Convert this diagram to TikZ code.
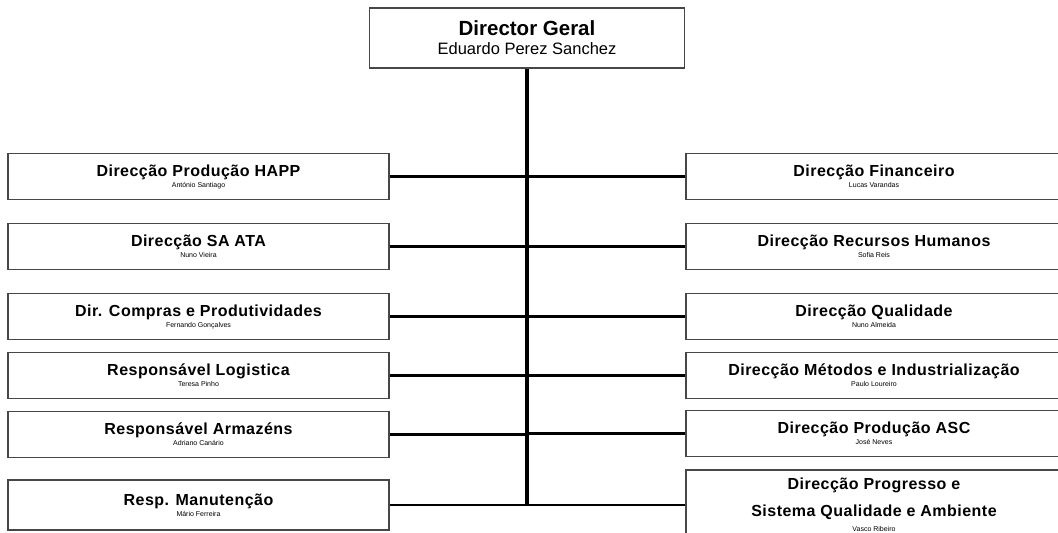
\documentclass[tikz,border=0pt]{standalone}
\usepackage{fontspec}
\setmainfont{Liberation Sans}
\usepackage{tikz}
\newcommand\leftX{198.5}
\newcommand\rightX{874}
\newcommand\trunkX{527}
\newcommand\boxColor{black!72}
\newcommand\titleFont{\bfseries\fontsize{16}{17}\selectfont\addfontfeature{LetterSpace=3}}
\newcommand\nameFont{\mdseries\fontsize{7}{8}\selectfont}
\newcommand{\unitText}[2]{\titleFont #1\\[-1pt]\nameFont #2}
\tikzset{
    unitBox/.style={draw=\boxColor, line width=1.6pt, fill=white, inner sep=0pt, align=center, minimum height=46pt},
    leftBox/.style={unitBox, minimum width=381pt},
    rightBox/.style={unitBox, minimum width=376pt},
    linkLine/.style={black, line width=2.8pt},
    trunkLine/.style={black, line width=3.8pt}
}

\begin{document}
\begin{tikzpicture}[x=1pt, y=-1pt]
        \useasboundingbox (0,0) rectangle (1058,533);

        % top of the chart
        \node[unitBox, minimum width=315pt, minimum height=60pt] (dirGeral) at (\trunkX, 38)
            {\bfseries\fontsize{20.5}{22}\selectfont Director Geral\\[6pt]\mdseries\fontsize{16.5}{17}\selectfont Eduardo Perez Sanchez};
        \coordinate (trunkEnd) at (\trunkX, 505);

        % left column
        \node[leftBox] (dirHapp) at (\leftX, 176.5) {\unitText{Direcção Produção HAPP}{António Santiago}};
        \node[leftBox] (dirSaAta) at (\leftX, 246.5) {\unitText{Direcção SA ATA}{Nuno Vieira}};
        \node[leftBox] (dirCompras) at (\leftX, 316.5) {\unitText{Dir. Compras e Produtividades}{Fernando Gonçalves}};
        \node[leftBox] (respLogistica) at (\leftX, 375.5) {\unitText{Responsável Logistica}{Teresa Pinho}};
        \node[leftBox] (respArmazens) at (\leftX, 434.5) {\unitText{Responsável Armazéns}{Adriano Canário}};
        \node[leftBox, minimum height=50pt] (respManutencao) at (\leftX, 505) {\unitText{Resp. Manutenção}{Mário Ferreira}};

        % right column
        \node[rightBox] (dirFinanceiro) at (\rightX, 176.5) {\unitText{Direcção Financeiro}{Lucas Varandas}};
        \node[rightBox] (dirRh) at (\rightX, 246.5) {\unitText{Direcção Recursos Humanos}{Sofia Reis}};
        \node[rightBox] (dirQualidade) at (\rightX, 316.5) {\unitText{Direcção Qualidade}{Nuno Almeida}};
        \node[rightBox] (dirMetodos) at (\rightX, 375.5) {\unitText{Direcção Métodos e Industrialização}{Paulo Loureiro}};
        \node[rightBox] (dirAsc) at (\rightX, 433.5) {\unitText{Direcção Produção ASC}{José Neves}};
        \node[rightBox, minimum height=70pt] (dirProgresso) at (\rightX, 505)
            {\titleFont Direcção Progresso e\\[11pt]\titleFont Sistema Qualidade e Ambiente\\[3pt]\nameFont Vasco Ribeiro};

        % connectors
        \draw[trunkLine] (dirGeral.south) -- ([yshift=1.4pt]trunkEnd);
        \foreach \unit in {dirHapp, dirSaAta, dirCompras, respLogistica, respArmazens, respManutencao}
            \draw[linkLine] (\unit.east) -- (\unit.east -| trunkEnd);
        \foreach \unit in {dirFinanceiro, dirRh, dirQualidade, dirMetodos, dirAsc, dirProgresso}
            \draw[linkLine] (\unit.west) -- (\unit.west -| trunkEnd);

    \end{tikzpicture}
\end{document}
